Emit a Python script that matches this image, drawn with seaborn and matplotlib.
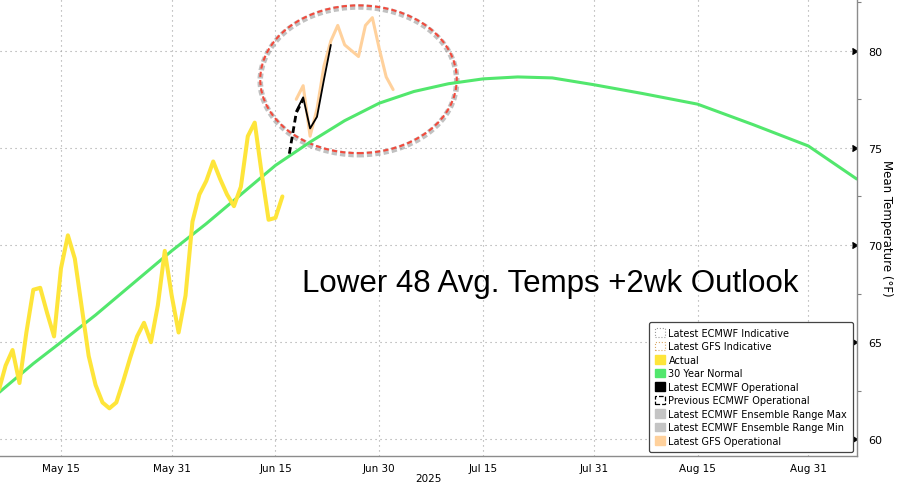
import numpy as np
import pandas as pd
import seaborn as sns
import matplotlib.pyplot as plt
import matplotlib.dates as mdates
from matplotlib.patches import Ellipse, Patch

# daily observed mean temps (deg F), starting May 6
actual_start = "2025-05-06"
actual_temps = [62.5, 63.8, 64.6, 62.9, 65.5, 67.7, 67.8, 66.5, 65.3, 68.8,
                70.5, 69.3, 66.8, 64.3, 62.8, 61.9, 61.6, 61.9, 63.0, 64.2,
                65.3, 66.0, 65.0, 66.9, 69.7, 67.4, 65.5, 67.4, 71.2, 72.6,
                73.3, 74.3, 73.4, 72.6, 72.0, 73.0, 75.6, 76.3, 73.7, 71.3,
                71.4, 72.5]

# 30 year normal
normal_dates = ["2025-05-06", "2025-05-11", "2025-05-15", "2025-05-20", "2025-05-25",
                "2025-05-31", "2025-06-05", "2025-06-10", "2025-06-15", "2025-06-20",
                "2025-06-25", "2025-06-30", "2025-07-05", "2025-07-10", "2025-07-15",
                "2025-07-20", "2025-07-25", "2025-07-31", "2025-08-07", "2025-08-15",
                "2025-08-23", "2025-08-31", "2025-09-07"]
normal_temps = [62.4, 63.9, 65.0, 66.4, 67.9, 69.7, 71.1, 72.6, 74.1, 75.3,
                76.4, 77.3, 77.9, 78.3, 78.55, 78.65, 78.6, 78.25, 77.8, 77.25,
                76.2, 75.1, 73.4]

gfs_start = "2025-06-18"
gfs_temps = [77.5, 78.2, 75.6, 77.0, 79.2, 80.5, 81.3, 80.3, 80.0, 79.7,
             81.3, 81.7, 80.1, 78.65, 78.0]

ecmwf_start = "2025-06-18"
ecmwf_temps = [76.9, 77.6, 76.0, 76.6, 78.5, 80.3]

prev_ecmwf_start = "2025-06-17"
prev_ecmwf_temps = [74.7, 76.8, 77.5]

xtick_dates = ["2025-05-15", "2025-05-31", "2025-06-15", "2025-06-30",
               "2025-07-15", "2025-07-31", "2025-08-15", "2025-08-31"]
xtick_labels = ["May 15", "May 31", "Jun 15", "Jun 30",
                "Jul 15", "Jul 31", "Aug 15", "Aug 31"]
xminor_dates = ["2025-05-07 00:00", "2025-05-23 00:00", "2025-06-07 12:00",
                "2025-06-22 12:00", "2025-07-07 12:00", "2025-07-23 00:00",
                "2025-08-07 12:00", "2025-08-23 00:00"]
ytick_vals = [60, 65, 70, 75, 80]

legend_labels = ["Latest ECMWF Indicative", "Latest GFS Indicative", "Actual",
                 "30 Year Normal", "Latest ECMWF Operational",
                 "Previous ECMWF Operational", "Latest ECMWF Ensemble Range Max",
                 "Latest ECMWF Ensemble Range Min", "Latest GFS Operational"]

YELLOW = "#FEE53A"
GREEN = "#52E76D"
PEACH = "#FFD19C"
GRAY = "#C4C4C4"


def daily(start, temps):
    return pd.DataFrame({"date": pd.date_range(start, periods=len(temps), freq="D"),
                         "temp": temps})


sns.set_style("white")
plt.rcParams["font.family"] = ["DejaVu Sans"]
plt.rcParams["text.color"] = "black"
plt.rcParams["axes.labelcolor"] = "black"
plt.rcParams["xtick.labelcolor"] = "black"
plt.rcParams["ytick.labelcolor"] = "black"

fig = plt.figure(figsize=(9.06, 4.85), dpi=100)
ax = fig.add_axes([0.0, 0.0571, 0.9456, 0.9429])

normal = pd.DataFrame({"date": pd.to_datetime(normal_dates), "temp": normal_temps})
sns.lineplot(data=normal, x="date", y="temp", color=GREEN, lw=2.2, ax=ax)
sns.lineplot(data=daily(actual_start, actual_temps), x="date", y="temp",
             color=YELLOW, lw=2.9, ax=ax)
sns.lineplot(data=daily(prev_ecmwf_start, prev_ecmwf_temps), x="date", y="temp",
             color="black", lw=2.0, linestyle=(0, (2.4, 1.4)), ax=ax)
sns.lineplot(data=daily(gfs_start, gfs_temps), x="date", y="temp",
             color=PEACH, lw=2.2, ax=ax)
sns.lineplot(data=daily(ecmwf_start, ecmwf_temps), x="date", y="temp",
             color="black", lw=1.3, ax=ax)

# highlight ellipse around the forecast
cx = mdates.date2num(pd.Timestamp("2025-06-27"))
ax.add_patch(Ellipse((cx, 78.45), 28.4, 7.6, fill=False, edgecolor="#777777",
                     lw=4, alpha=0.45, linestyle=(0, (0.95, 0.55))))
ax.add_patch(Ellipse((cx, 78.53), 28.4, 7.6, fill=False, edgecolor="#F24A3C",
                     lw=1.5, linestyle=(0, (2.5, 1.5))))

ax.text(0.352, 0.362, "Lower 48 Avg. Temps +2wk Outlook", transform=ax.transAxes,
        fontsize=22.5, family="Liberation Sans", color="black",
        ha="left", va="baseline")

ax.set_xlim(pd.Timestamp("2025-05-06 04:30"), pd.Timestamp("2025-09-07"))
ax.set_ylim(59.13, 82.66)

ax.set_xticks(pd.to_datetime(xtick_dates))
ax.set_xticklabels(xtick_labels)
ax.set_xticks(pd.to_datetime(xminor_dates), minor=True)
ax.yaxis.tick_right()
ax.yaxis.set_label_position("right")
ax.set_yticks(ytick_vals)
ax.set_yticks(np.arange(62.5, 83, 5), minor=True)

ax.tick_params(axis="x", which="both", direction="out", length=3, width=0.8,
               color="#808080", labelsize=7.5, pad=2)
ax.tick_params(axis="y", which="major", length=0, pad=8, labelsize=8)
ax.tick_params(axis="y", which="minor", direction="out", length=3, width=0.8,
               color="#808080")
ax.plot([1] * len(ytick_vals), ytick_vals, transform=ax.get_yaxis_transform(),
        marker=5, ms=5, color="black", ls="none", clip_on=False)

ax.grid(True, which="major", color="#A0A0A0", lw=0.8, linestyle=(0, (1, 3.5)))
for side in ["left", "top"]:
    ax.spines[side].set_visible(False)
for side in ["bottom", "right"]:
    ax.spines[side].set_color("#8C8C8C")
    ax.spines[side].set_linewidth(1.0)

ax.set_xlabel("2025", fontsize=7.5, labelpad=0)
ax.set_ylabel("Mean Temperature (°F)", fontsize=8.5, rotation=270, labelpad=8)

handles = [
    Patch(facecolor="white", edgecolor="#9A9A9A", linestyle=":", lw=0.8),
    Patch(facecolor="white", edgecolor="#D9A766", linestyle=":", lw=0.8),
    Patch(facecolor=YELLOW, edgecolor=YELLOW),
    Patch(facecolor=GREEN, edgecolor=GREEN),
    Patch(facecolor="black", edgecolor="black"),
    Patch(facecolor="white", edgecolor="black", linestyle="--", lw=0.9),
    Patch(facecolor=GRAY, edgecolor=GRAY),
    Patch(facecolor=GRAY, edgecolor=GRAY),
    Patch(facecolor=PEACH, edgecolor=PEACH),
]
leg = ax.legend(handles, legend_labels, loc="lower right",
                bbox_to_anchor=(0.9957, 0.01), borderaxespad=0, fontsize=7,
                handlelength=1.0, handleheight=1.0, handletextpad=0.4,
                labelspacing=0.36, borderpad=0.6, fancybox=True,
                framealpha=1, edgecolor="#444444")
leg.get_frame().set_linewidth(0.9)

fig.savefig("out.png", dpi=100)
